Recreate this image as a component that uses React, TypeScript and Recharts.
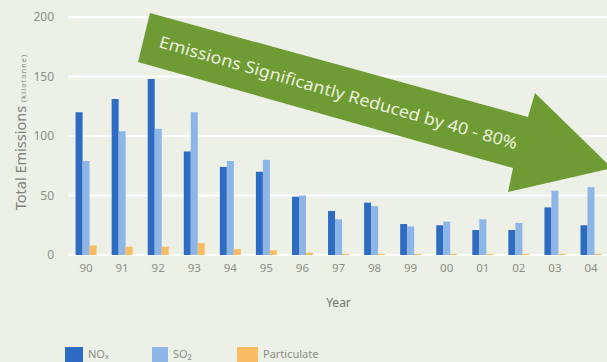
import React from "react";
import {
  BarChart,
  Bar,
  XAxis,
  YAxis,
  CartesianGrid,
} from "recharts";

const years = ["90", "91", "92", "93", "94", "95", "96", "97", "98", "99", "00", "01", "02", "03", "04"];
const noxValues = [120, 131, 148, 87, 74, 70, 49, 37, 44, 26, 25, 21, 21, 40, 25];
const so2Values = [79, 104, 106, 120, 79, 80, 50, 30, 41, 24, 28, 30, 27, 54, 57];
const particulateValues = [8, 7, 7, 10, 5, 4, 2, 1, 1, 1, 1, 1, 1, 1, 1];
const yTicks = [0, 50, 100, 150, 200];

const data = years.map((year, i) => ({
  year,
  nox: noxValues[i],
  so2: so2Values[i],
  particulate: particulateValues[i],
}));

const FONT = "'Noto Sans', 'DejaVu Sans', sans-serif";
const NOX_COLOR = "#2d6cc0";
const SO2_COLOR = "#8db5e6";
const PART_COLOR = "#f9bc62";

// legend drawn below the plot, like the printed original
const legendItems = [
  { name: "NOₓ", color: NOX_COLOR, left: 65, width: 18 },
  { name: "SO₂", color: SO2_COLOR, left: 152, width: 16 },
  { name: "Particulate", color: PART_COLOR, left: 237, width: 21 },
];

const YLabel = () => (
  <text transform="translate(26, 132) rotate(-90)" textAnchor="middle" fontFamily={FONT} fill="#7d827b">
    <tspan fontSize={14.5}>Total Emissions </tspan>
    <tspan fontSize={7} letterSpacing={1.2}>(kilotonne)</tspan>
  </text>
);

const App: React.FC = () => {
  return (
    <div
      style={{
        position: "fixed",
        left: 0,
        top: 0,
        width: 607,
        height: 362,
        overflow: "hidden",
        background: "#edf0e7",
        fontFamily: FONT,
      }}
    >
      <BarChart
        width={612}
        height={362}
        data={data}
        margin={{ top: 17, right: 3, bottom: 17, left: 0 }}
        barCategoryGap="21%"
        barGap={0}
      >
        <CartesianGrid vertical={false} stroke="#ffffff" strokeWidth={2} />
        <XAxis
          dataKey="year"
          height={90}
          axisLine={false}
          tickLine={false}
          tickSize={0}
          tickMargin={9}
          tick={{ fontSize: 11.5, fill: "#8a8f88", fontFamily: FONT }}
          interval={0}
          label={{
            value: "Year",
            position: "insideTop",
            offset: 43,
            style: { fontSize: 12, fill: "#6f746d", fontFamily: FONT },
          }}
        />
        <YAxis
          width={68}
          domain={[0, 200]}
          ticks={yTicks}
          axisLine={false}
          tickLine={false}
          tickSize={0}
          tickMargin={14}
          tick={{ fontSize: 12, fill: "#8a8f88", fontFamily: FONT }}
          label={<YLabel />}
        />
        <Bar dataKey="nox" name="NOₓ" fill={NOX_COLOR} isAnimationActive={false} />
        <Bar dataKey="so2" name="SO₂" fill={SO2_COLOR} isAnimationActive={false} />
        <Bar dataKey="particulate" name="Particulate" fill={PART_COLOR} isAnimationActive={false} />
      </BarChart>
      {legendItems.map((item) => (
        <div
          key={item.name}
          style={{ position: "absolute", left: item.left, top: 347, display: "flex", alignItems: "flex-start" }}
        >
          <div style={{ width: item.width, height: 17, background: item.color }} />
          <span style={{ marginLeft: 5, fontSize: 11, color: "#8a8f88", lineHeight: "13px" }}>{item.name}</span>
        </div>
      ))}
      <svg
        width={607}
        height={362}
        style={{ position: "absolute", left: 0, top: 0, pointerEvents: "none" }}
      >
        <polygon
          points="150,13 528,117 535,93 612,168 508,192 513,168 138,62"
          fill="#6f9b34"
        />
        <text
          x={338}
          y={94}
          transform="rotate(16 338 94)"
          textAnchor="middle"
          dominantBaseline="middle"
          fontFamily={FONT}
          fontSize={16.5}
          textLength={372}
          lengthAdjust="spacingAndGlyphs"
          fill="#e9f0dc"
        >
          Emissions Significantly Reduced by 40 - 80%
        </text>
      </svg>
    </div>
  );
};

export default App;
